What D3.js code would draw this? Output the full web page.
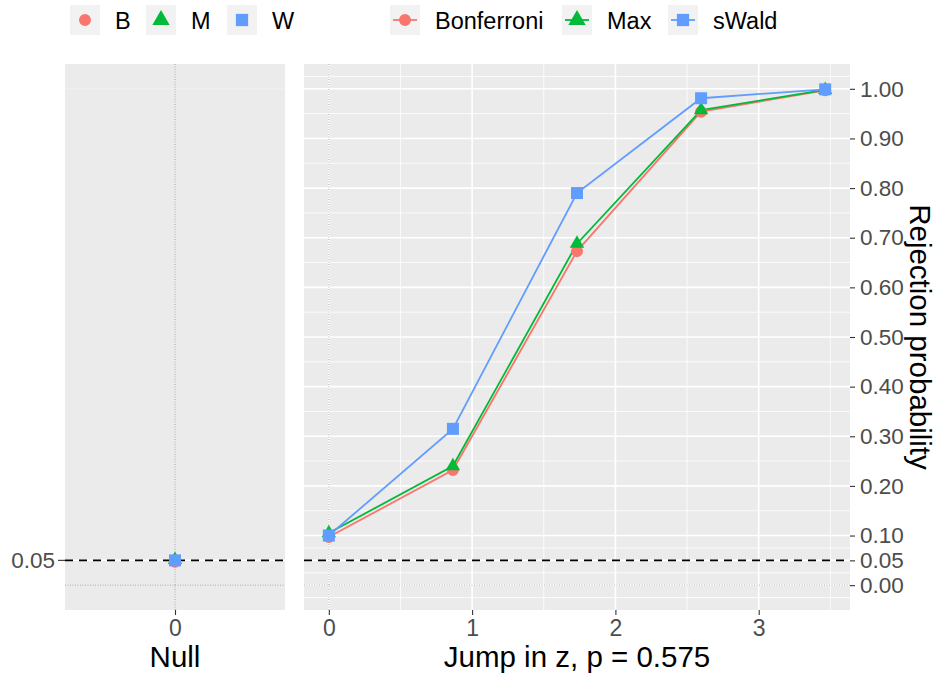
<!DOCTYPE html>
<html>
<head>
<meta charset="utf-8">
<script src="https://cdn.jsdelivr.net/npm/d3@7"></script>
<style>
  body { margin: 0; background: #fff; }
  svg { font-family: "Liberation Sans", Arial, sans-serif; display: block; }
</style>
</head>
<body>
<svg id="chart" width="938" height="677"></svg>
<script>
// jump sizes (x) and rejection probabilities per test
var jumps = [0, 0.866, 1.732, 2.598, 3.464];
var bonferroni = [0.097, 0.232, 0.673, 0.954, 0.997];
var maxTest = [0.105, 0.240, 0.688, 0.957, 0.998];
var sWald = [0.100, 0.315, 0.790, 0.981, 0.999];

// null panel (single point at 0)
var nullX = [0];
var nullB = [0.047];
var nullM = [0.051];
var nullW = [0.050];

var alphaLevel = 0.05;
var yBreaks = [0, 0.05, 0.1, 0.2, 0.3, 0.4, 0.5, 0.6, 0.7, 0.8, 0.9, 1.0];
var yMinor = [-0.025, 0.025, 0.075, 0.15, 0.25, 0.35, 0.45, 0.55, 0.65, 0.75, 0.85, 0.95, 1.025];
var xBreaks = [0, 1, 2, 3];
var xMinor = [0.5, 1.5, 2.5, 3.5];
var nullLegend = ["B", "M", "W"];
var testLegend = ["Bonferroni", "Max", "sWald"];
var colors = ["#F8766D", "#00BA38", "#619CFF"];

var svg = d3.select("#chart");

var pTop = 64, pBottom = 610;
var left1 = 65, right1 = 285, left2 = 304, right2 = 850;

var y = d3.scaleLinear().domain([-0.05, 1.05]).range([pBottom, pTop]);
var xL = d3.scaleLinear().domain([-1, 1]).range([left1, right1]);
var xR = d3.scaleLinear().domain([-0.1732, 3.6372]).range([left2, right2]);

var symbols = [d3.symbolCircle, d3.symbolTriangle, d3.symbolSquare];
var sizes = [113, 90, 144];
function shape(i, s) { return d3.symbol().type(symbols[i]).size(s || sizes[i])(); }

// ---------- left panel (Null) ----------
var gL = svg.append("g");
gL.append("rect")
  .attr("x", left1).attr("y", pTop)
  .attr("width", right1 - left1).attr("height", pBottom - pTop)
  .attr("fill", "#EBEBEB");
// faint line at 1.00
gL.append("line")
  .attr("x1", left1).attr("x2", right1)
  .attr("y1", y(1)).attr("y2", y(1))
  .attr("stroke", "#F2F2F2").attr("stroke-width", 0.8);
gL.append("line")
  .attr("x1", left1).attr("x2", right1)
  .attr("y1", y(alphaLevel)).attr("y2", y(alphaLevel))
  .attr("stroke", "#fff").attr("stroke-width", 1.5);

// ---------- right panel ----------
var gR = svg.append("g");
gR.append("rect")
  .attr("x", left2).attr("y", pTop)
  .attr("width", right2 - left2).attr("height", pBottom - pTop)
  .attr("fill", "#EBEBEB");

gR.selectAll(".ymin").data(yMinor).enter().append("line")
  .attr("x1", left2).attr("x2", right2)
  .attr("y1", function(d) { return y(d); }).attr("y2", function(d) { return y(d); })
  .attr("stroke", "#fff").attr("stroke-width", 0.8);
gR.selectAll(".xmin").data(xMinor).enter().append("line")
  .attr("y1", pTop).attr("y2", pBottom)
  .attr("x1", function(d) { return xR(d); }).attr("x2", function(d) { return xR(d); })
  .attr("stroke", "#fff").attr("stroke-width", 0.8);
gR.selectAll(".ymaj").data(yBreaks).enter().append("line")
  .attr("x1", left2).attr("x2", right2)
  .attr("y1", function(d) { return y(d); }).attr("y2", function(d) { return y(d); })
  .attr("stroke", "#fff").attr("stroke-width", 1.6);
gR.selectAll(".xmaj").data(xBreaks).enter().append("line")
  .attr("y1", pTop).attr("y2", pBottom)
  .attr("x1", function(d) { return xR(d); }).attr("x2", function(d) { return xR(d); })
  .attr("stroke", "#fff").attr("stroke-width", 1.6);

// dotted reference lines at 0 and dashed alpha line, both panels
[[gL, xL, left1, right1], [gR, xR, left2, right2]].forEach(function(p) {
  p[0].append("line")
    .attr("x1", p[2]).attr("x2", p[3])
    .attr("y1", y(0)).attr("y2", y(0))
    .attr("stroke", "#9a9a9a").attr("stroke-width", 0.8)
    .attr("stroke-dasharray", "1,1.5");
  p[0].append("line")
    .attr("x1", p[1](0)).attr("x2", p[1](0))
    .attr("y1", pTop).attr("y2", pBottom)
    .attr("stroke", "#9a9a9a").attr("stroke-width", 0.8)
    .attr("stroke-dasharray", "1,1.5");
  p[0].append("line")
    .attr("x1", p[2]).attr("x2", p[3])
    .attr("y1", y(alphaLevel)).attr("y2", y(alphaLevel))
    .attr("stroke", "#000").attr("stroke-width", 1.8)
    .attr("stroke-dasharray", "8,6");
});

// lines
var series = [bonferroni, maxTest, sWald];
var line = d3.line()
  .x(function(d, i) { return xR(jumps[i]); })
  .y(function(d) { return y(d); });
gR.selectAll(".series").data(series).enter().append("path")
  .attr("fill", "none")
  .attr("stroke", function(d, i) { return colors[i]; })
  .attr("stroke-width", 1.8)
  .attr("d", line);

// points
series.forEach(function(s, k) {
  gR.selectAll(".pt" + k).data(s).enter().append("path")
    .attr("transform", function(d, i) { return "translate(" + xR(jumps[i]) + "," + y(d) + ")"; })
    .attr("d", shape(k))
    .attr("fill", colors[k]);
});
[nullB, nullM, nullW].forEach(function(s, k) {
  gL.selectAll(".np" + k).data(s).enter().append("path")
    .attr("transform", function(d, i) { return "translate(" + xL(nullX[i]) + "," + y(d) + ")"; })
    .attr("d", shape(k))
    .attr("fill", colors[k]);
});

// ---------- axes ----------
var tickCol = "#333", textCol = "#4D4D4D";

// left y axis: only alpha level
svg.append("line").attr("x1", left1 - 7).attr("x2", left1)
  .attr("y1", y(alphaLevel)).attr("y2", y(alphaLevel))
  .attr("stroke", tickCol).attr("stroke-width", 1.1);
svg.append("text").attr("x", left1 - 10).attr("y", y(alphaLevel))
  .attr("dy", "0.35em").attr("text-anchor", "end")
  .attr("fill", textCol).style("font-size", "22.5px")
  .text("0.05");

// right y axis
var yAxis = svg.append("g")
  .attr("transform", "translate(" + right2 + ",0)")
  .call(d3.axisRight(y).tickValues(yBreaks).tickFormat(d3.format(".2f")).tickSize(5).tickPadding(5));
yAxis.select(".domain").remove();
yAxis.selectAll(".tick line").attr("stroke", tickCol).attr("stroke-width", 1.1);
yAxis.selectAll(".tick text").attr("fill", textCol).style("font-size", "22.5px")
  .style("font-family", "Liberation Sans, Arial, sans-serif");

// x axes
var xAxL = svg.append("g")
  .attr("transform", "translate(0," + pBottom + ")")
  .call(d3.axisBottom(xL).tickValues(nullX).tickFormat(d3.format("d")).tickSize(5).tickPadding(5));
var xAxR = svg.append("g")
  .attr("transform", "translate(0," + pBottom + ")")
  .call(d3.axisBottom(xR).tickValues(xBreaks).tickFormat(d3.format("d")).tickSize(5).tickPadding(5));
[xAxL, xAxR].forEach(function(a) {
  a.select(".domain").remove();
  a.selectAll(".tick line").attr("stroke", tickCol).attr("stroke-width", 1.1);
  a.selectAll(".tick text").attr("fill", textCol).style("font-size", "23px")
    .style("font-family", "Liberation Sans, Arial, sans-serif");
});

// titles
svg.append("text").attr("x", (left1 + right1) / 2).attr("y", 667)
  .attr("text-anchor", "middle").style("font-size", "29.5px").text("Null");
svg.append("text").attr("x", (left2 + right2) / 2).attr("y", 667)
  .attr("text-anchor", "middle").style("font-size", "29.5px").text("Jump in z, p = 0.575");
svg.append("text")
  .attr("transform", "translate(910," + (pTop + pBottom) / 2 + ") rotate(90)")
  .attr("text-anchor", "middle").style("font-size", "29.5px")
  .text("Rejection probability");

// ---------- legends ----------
var leg1X = [70, 146, 227];
var leg1 = svg.selectAll(".leg1").data(nullLegend).enter().append("g")
  .attr("transform", function(d, i) { return "translate(" + leg1X[i] + ",5)"; });
leg1.append("rect").attr("width", 30).attr("height", 30).attr("fill", "#F2F2F2");
leg1.append("path")
  .attr("transform", "translate(15,15)")
  .attr("d", function(d, i) { return shape(i, [113, 130, 150][i]); })
  .attr("fill", function(d, i) { return colors[i]; });
leg1.append("text").attr("x", 45).attr("y", 24).style("font-size", "23.5px")
  .text(function(d) { return d; });

var leg2X = [390, 562, 668];
var leg2 = svg.selectAll(".leg2").data(testLegend).enter().append("g")
  .attr("transform", function(d, i) { return "translate(" + leg2X[i] + ",5)"; });
leg2.append("rect").attr("width", 30).attr("height", 30).attr("fill", "#F2F2F2");
leg2.append("line").attr("x1", 3).attr("x2", 27).attr("y1", 15).attr("y2", 15)
  .attr("stroke", function(d, i) { return colors[i]; }).attr("stroke-width", 1.8);
leg2.append("path")
  .attr("transform", "translate(15,15)")
  .attr("d", function(d, i) { return shape(i, [113, 130, 150][i]); })
  .attr("fill", function(d, i) { return colors[i]; });
leg2.append("text").attr("x", 45).attr("y", 24).style("font-size", "23.5px")
  .text(function(d) { return d; });
</script>
</body>
</html>
